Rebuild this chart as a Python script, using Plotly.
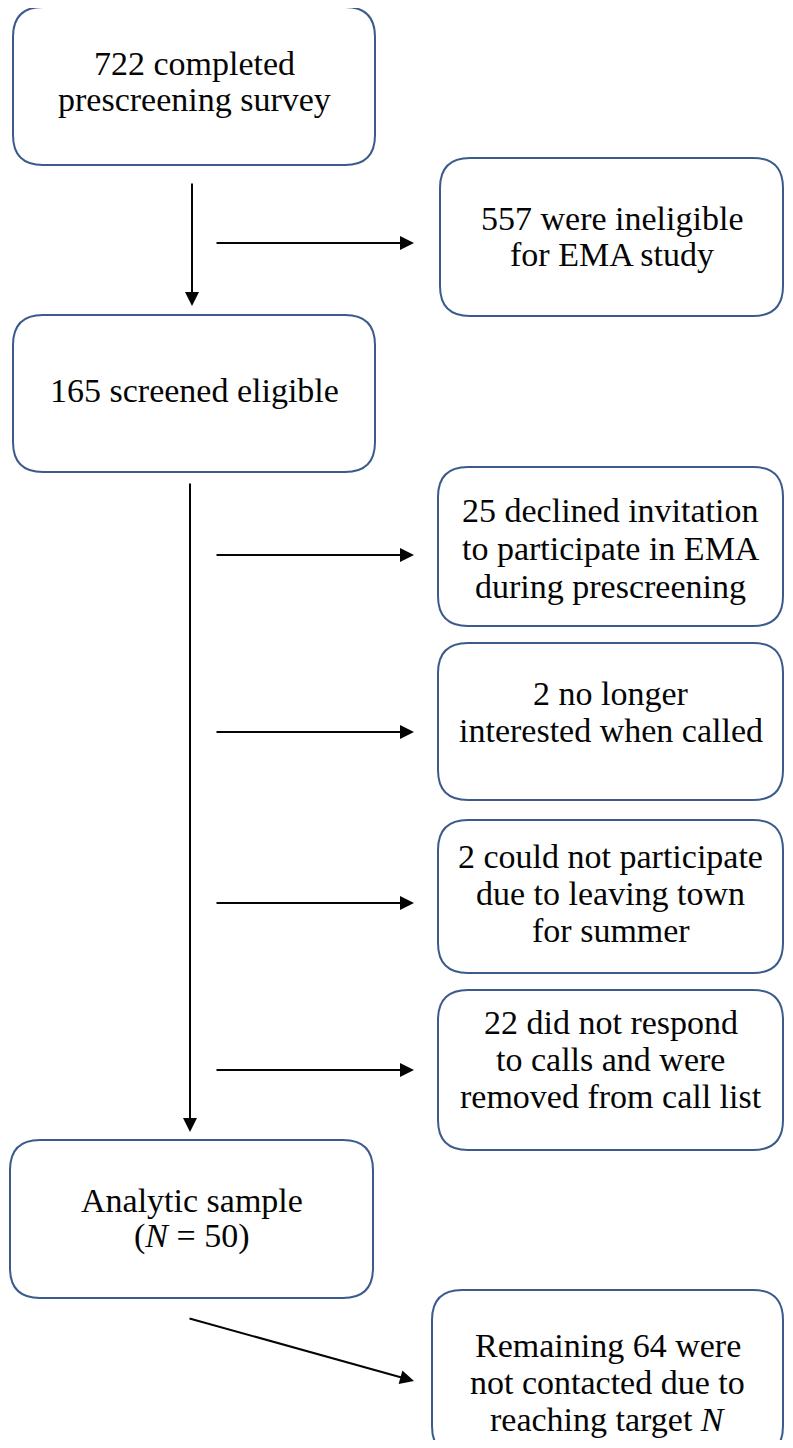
import plotly.graph_objects as go

W, H = 793, 1448
PAGE_MARGIN = 8  # default body margin of the html page
BORDER = "#3c5b8c"
FONT = "Liberation Serif"
FONT_SIZE = 34

# box texts, one entry per line
LEFT_LABELS = [
    ["722 completed", "prescreening survey"],
    ["165 screened eligible"],
    ["Analytic sample", "(<i>N</i> = 50)"],
]
RIGHT_LABELS = [
    ["557 were ineligible", "for EMA study"],
    ["25 declined invitation", "to participate in EMA", "during prescreening"],
    ["2 no longer", "interested when called"],
    ["2 could not participate", "due to leaving town", "for summer"],
    ["22 did not respond", "to calls and were", "removed from call list"],
    ["Remaining 64 were", "not contacted due to", "reaching target <i>N</i>"],
]

# geometry (pixels): x0, y0, x1, y1, y of first text line, line step
LEFT_BOXES = [
    (13, 7, 375, 165, 63, 36),
    (13, 315, 375, 472, 390, 36),
    (10, 1140, 373, 1298, 1200, 36),
]
RIGHT_BOXES = [
    (440, 158, 783, 316, 218, 36),
    (438, 467, 783, 626, 510, 38),
    (438, 643, 783, 800, 693, 37),
    (438, 820, 783, 973, 856, 37),
    (438, 990, 783, 1150, 1022, 37),
    (432, 1290, 783, 1456, 1345, 37),
]
# arrows: (x_start, y_start, x_end, y_end)
ARROWS = [
    (192, 182, 192, 306),
    (215, 243, 414, 243),
    (190, 482, 190, 1132),
    (215, 555, 414, 555),
    (215, 732, 414, 732),
    (215, 903, 414, 903),
    (215, 1070, 414, 1070),
    (188, 1318, 414, 1381),
]


def rounded_rect(x0, y0, x1, y1, r=30):
    return (
        f"M{x0 + r},{y0} L{x1 - r},{y0} Q{x1},{y0} {x1},{y0 + r} "
        f"L{x1},{y1 - r} Q{x1},{y1} {x1 - r},{y1} L{x0 + r},{y1} "
        f"Q{x0},{y1} {x0},{y1 - r} L{x0},{y0 + r} Q{x0},{y0} {x0 + r},{y0} Z"
    )


fig = go.Figure()
fig.add_trace(go.Scatter(x=[PAGE_MARGIN, W - PAGE_MARGIN], y=[PAGE_MARGIN, H - PAGE_MARGIN],
                         mode="markers", marker={"opacity": 0}, hoverinfo="skip"))

for lines, (x0, y0, x1, y1, ty, step) in zip(LEFT_LABELS + RIGHT_LABELS, LEFT_BOXES + RIGHT_BOXES):
    fig.add_shape(
        type="path",
        path=rounded_rect(x0, y0, x1, y1),
        line={"color": BORDER, "width": 2},
        fillcolor="white",
        layer="below",
    )
    for i, line in enumerate(lines):
        fig.add_annotation(
            x=(x0 + x1) / 2,
            y=ty + i * step,
            text=line,
            showarrow=False,
            font={"family": FONT, "size": FONT_SIZE, "color": "#050505"},
            align="center",
        )

for xs, ys, xe, ye in ARROWS:
    fig.add_annotation(
        x=xe,
        y=ye,
        ax=xs,
        ay=ys,
        xref="x",
        yref="y",
        axref="x",
        ayref="y",
        text="",
        showarrow=True,
        arrowhead=2,
        arrowsize=1.4,
        arrowwidth=2,
        arrowcolor="#050505",
    )

# the page adds an 8px body margin on every side, so the figure is shrunk to
# fit the window without scrollbars and one data unit stays one screen pixel
fig.update_xaxes(range=[PAGE_MARGIN, W - PAGE_MARGIN], visible=False, fixedrange=True)
fig.update_yaxes(range=[H - PAGE_MARGIN, PAGE_MARGIN], visible=False, fixedrange=True)
fig.update_layout(
    width=W - 2 * PAGE_MARGIN,
    height=H - 2 * PAGE_MARGIN,
    margin={"l": 0, "r": 0, "t": 0, "b": 0},
    plot_bgcolor="white",
    paper_bgcolor="white",
    showlegend=False,
)
fig.write_html("out.html")
